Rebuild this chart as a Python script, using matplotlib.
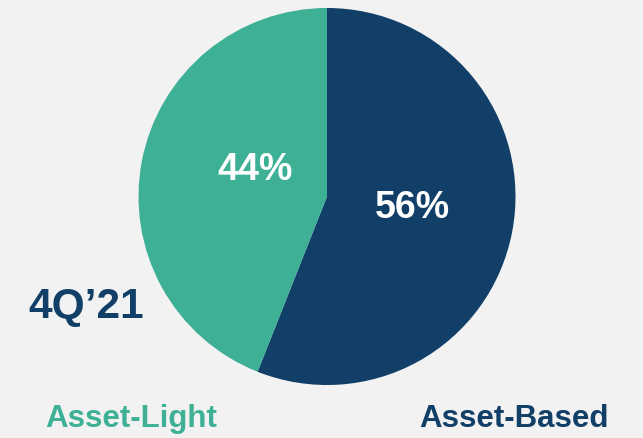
import matplotlib
matplotlib.use("Agg")
import matplotlib.pyplot as plt

categories = ["Asset-Based", "Asset-Light"]
values = [56, 44]
colors = ["#113f67", "#3eb096"]
period = "4Q\u201921"

plt.rcParams['font.family'] = ['Liberation Sans', 'DejaVu Sans']

W, H = 643, 438
fig = plt.figure(figsize=(W / 100, H / 100), dpi=100)
fig.patch.set_facecolor("#f2f2f2")
ax = fig.add_axes([0, 0, 1, 1])
ax.set_facecolor("#f2f2f2")

cx, cy, r = 327, 196.5, 188.5
wedges, _ = ax.pie(values, colors=colors, startangle=-90, counterclock=True,
                   center=(cx, cy), radius=r, frame=True,
                   wedgeprops=dict(linewidth=0))
ax.set_xlim(0, W)
ax.set_ylim(H, 0)
ax.set_aspect("equal")
ax.axis("off")

ax.text(412, 208, f"{values[0]}%", color="white", fontsize=27, fontweight="bold",
        ha="center", va="center")
ax.text(255, 170, f"{values[1]}%", color="white", fontsize=27, fontweight="bold",
        ha="center", va="center")
ax.text(86, 307, period, color=colors[0], fontsize=30.5, fontweight="bold",
        ha="center", va="center")
ax.text(131, 419, categories[1], color=colors[1], fontsize=22.5, fontweight="bold",
        ha="center", va="center")
ax.text(514, 419, categories[0], color=colors[0], fontsize=22.5, fontweight="bold",
        ha="center", va="center")

fig.savefig("out.png", dpi=100, facecolor=fig.get_facecolor())
